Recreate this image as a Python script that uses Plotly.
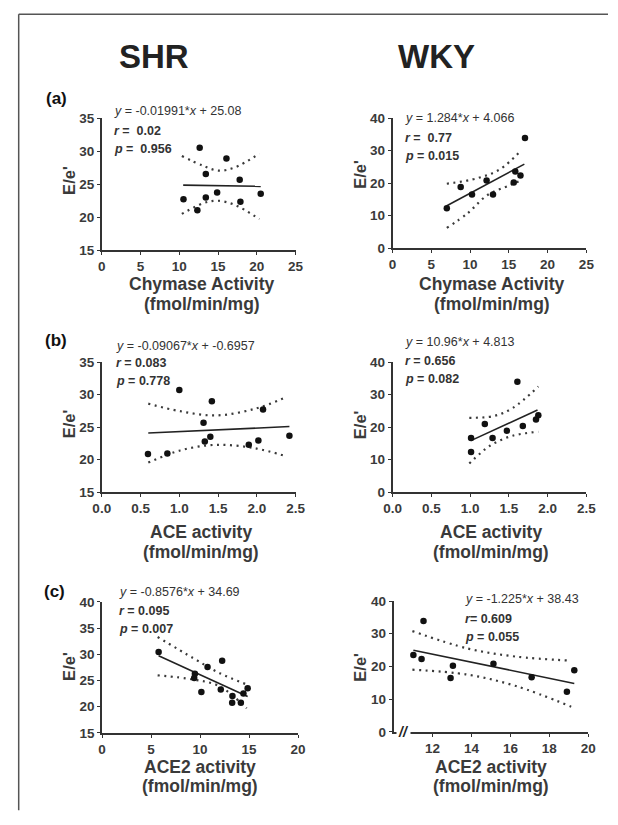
import plotly.graph_objects as go

W, H = 618, 825

# ---------------- data ----------------
# (a) Chymase activity
shr_chy_x = [10.54, 12.33, 12.63, 13.42, 13.42, 14.88, 16.08, 17.79, 17.88, 20.5]
shr_chy_y = [22.74, 21.05, 30.53, 26.56, 22.99, 23.73, 28.9, 25.67, 22.34, 23.54]
shr_chy_fit_x = [10.5, 20.5]
shr_chy_fit_y = [24.87, 24.67]
shr_chy_up_x = [10.33, 13.04, 15.1, 17.2, 20.33]
shr_chy_up_y = [29.29, 27.8, 27.06, 27.56, 29.64]
shr_chy_lo_x = [10.33, 13.04, 14.9, 17.2, 20.33]
shr_chy_lo_y = [20.5, 22.1, 22.5, 21.85, 19.7]

wky_chy_x = [7.0, 8.79, 10.25, 12.13, 12.96, 15.63, 15.83, 16.5, 17.08]
wky_chy_y = [12.29, 18.84, 16.52, 20.86, 16.52, 20.25, 23.58, 22.37, 33.95]
wky_chy_fit_x = [7.0, 17.0]
wky_chy_fit_y = [13.05, 25.89]
wky_chy_up_x = [7.0, 10.96, 13.9, 16.58]
wky_chy_up_y = [19.85, 21.56, 24.38, 30.1]
wky_chy_lo_x = [7.0, 9.7, 12.2, 15.1, 16.58]
wky_chy_lo_y = [6.25, 10.78, 16.3, 19.35, 20.86]

# (b) ACE activity
shr_ace_x = [0.596, 0.846, 1.0, 1.3125, 1.329, 1.4, 1.42, 1.896, 2.02, 2.08, 2.42]
shr_ace_y = [20.88, 20.98, 30.73, 25.7, 22.79, 23.54, 28.97, 22.29, 22.94, 27.71, 23.69]
shr_ace_fit_x = [0.6, 2.42]
shr_ace_fit_y = [24.1, 25.1]
shr_ace_up_x = [0.6, 1.01, 1.47, 1.97, 2.38]
shr_ace_up_y = [28.62, 27.46, 26.81, 27.81, 29.62]
shr_ace_lo_x = [0.6, 1.01, 1.47, 1.97, 2.38]
shr_ace_lo_y = [19.57, 21.43, 22.29, 21.78, 20.53]

wky_ace_x = [1.0125, 1.0125, 1.19, 1.29, 1.475, 1.61, 1.68, 1.85, 1.88]
wky_ace_y = [16.68, 12.36, 21.0, 16.68, 18.9, 33.97, 20.4, 22.4, 23.7]
wky_ace_fit_x = [1.01, 1.87]
wky_ace_fit_y = [15.88, 25.3]
wky_ace_up_x = [0.99, 1.3, 1.55, 1.88]
wky_ace_up_y = [22.9, 23.4, 25.9, 32.5]
wky_ace_lo_x = [0.99, 1.26, 1.55, 1.88]
wky_ace_lo_y = [8.84, 14.37, 17.39, 18.6]

# (c) ACE2 activity
shr_ace2_x = [5.77, 9.47, 9.4, 10.13, 10.76, 12.25, 12.11, 13.3, 13.27, 14.16, 14.42, 14.85]
shr_ace2_y = [30.44, 26.3, 25.5, 22.8, 27.57, 28.75, 23.3, 22.05, 20.74, 20.74, 22.5, 23.5]
shr_ace2_fit_x = [5.77, 14.85]
shr_ace2_fit_y = [29.74, 21.95]
shr_ace2_up_x = [5.67, 9.31, 11.95, 14.75]
shr_ace2_up_y = [33.3, 29.26, 26.44, 24.25]
shr_ace2_lo_x = [5.67, 9.31, 11.95, 14.75]
shr_ace2_lo_y = [25.99, 25.19, 23.93, 19.69]

wky_ace2_x = [11.02, 11.44, 11.54, 12.93, 13.05, 15.13, 17.09, 18.9, 19.28]
wky_ace2_y = [23.5, 22.3, 33.9, 16.5, 20.2, 20.8, 16.7, 12.3, 18.8]
wky_ace2_fit_x = [11.02, 19.28]
wky_ace2_fit_y = [24.93, 14.81]
wky_ace2_up_x = [10.97, 13.8, 16.29, 19.03]
wky_ace2_up_y = [30.8, 25.5, 23.0, 21.8]
wky_ace2_lo_x = [10.97, 13.8, 16.29, 19.12]
wky_ace2_lo_y = [19.0, 17.5, 14.0, 7.7]

# equation text
eq_texts = [
    ("y", "-0.01991", "25.08", "r =  ", "0.02", "p =  ", "0.956"),
    ("y", "1.284", "4.066", "r =  ", "0.77", "p = ", "0.015"),
    ("y", "-0.09067", "-0.6957", "r = ", "0.083", "p = ", "0.778"),
    ("y", "10.96", "4.813", "r = ", "0.656", "p = ", "0.082"),
    ("y", "-0.8576", "34.69", "r = ", "0.095", "p = ", "0.007"),
    ("y", "-1.225", "38.43", "r= ", "0.609", "p = ", "0.055"),
]

# ---------------- layout helpers ----------------
def xd(a, b):
    return [a / W, b / W]

def yd(top, bottom):
    return [1 - bottom / H, 1 - top / H]

def px(x):
    return x / W

def py(y):
    return 1 - y / H

AX = "#333333"
SANS = "Liberation Sans"
TICKFONT = dict(family=SANS, size=13.5, color="#3a3a3a", weight="bold")

panels = [
    dict(xp=(95.7, 295.7), yp=(113.3, 247.7), xr=[0, 25], yr=[15, 35], xt=[0, 5, 10, 15, 20, 25], yt=[15, 20, 25, 30, 35], fmt=None,
         data=(shr_chy_x, shr_chy_y, shr_chy_fit_x, shr_chy_fit_y, shr_chy_up_x, shr_chy_up_y, shr_chy_lo_x, shr_chy_lo_y)),
    dict(xp=(395.7, 595.7), yp=(113.3, 245.7), xr=[0, 25], yr=[0, 40], xt=[0, 5, 10, 15, 20, 25], yt=[0, 10, 20, 30, 40], fmt=None,
         data=(wky_chy_x, wky_chy_y, wky_chy_fit_x, wky_chy_fit_y, wky_chy_up_x, wky_chy_up_y, wky_chy_lo_x, wky_chy_lo_y)),
    dict(xp=(95.7, 295.7), yp=(361.7, 494.3), xr=[0, 2.5], yr=[15, 35], xt=[0, 0.5, 1, 1.5, 2, 2.5], yt=[15, 20, 25, 30, 35], fmt=".1f",
         data=(shr_ace_x, shr_ace_y, shr_ace_fit_x, shr_ace_fit_y, shr_ace_up_x, shr_ace_up_y, shr_ace_lo_x, shr_ace_lo_y)),
    dict(xp=(395.7, 595.7), yp=(361.7, 494.3), xr=[0, 2.5], yr=[0, 40], xt=[0, 0.5, 1, 1.5, 2, 2.5], yt=[0, 10, 20, 30, 40], fmt=".1f",
         data=(wky_ace_x, wky_ace_y, wky_ace_fit_x, wky_ace_fit_y, wky_ace_up_x, wky_ace_up_y, wky_ace_lo_x, wky_ace_lo_y)),
    dict(xp=(96.0, 298.3), yp=(606.0, 739.3), xr=[0, 20], yr=[15, 40], xt=[0, 5, 10, 15, 20], yt=[15, 20, 25, 30, 35, 40], fmt=None,
         data=(shr_ace2_x, shr_ace2_y, shr_ace2_fit_x, shr_ace2_fit_y, shr_ace2_up_x, shr_ace2_up_y, shr_ace2_lo_x, shr_ace2_lo_y)),
    dict(xp=(396.7, 597.7), yp=(605.0, 738.3), xr=[10, 20], yr=[0, 40], xt=[12, 14, 16, 18, 20], yt=[0, 10, 20, 30, 40], fmt=None,
         data=(wky_ace2_x, wky_ace2_y, wky_ace2_fit_x, wky_ace2_fit_y, wky_ace2_up_x, wky_ace2_up_y, wky_ace2_lo_x, wky_ace2_lo_y)),
]

fig = go.Figure()
layout = dict(
    width=W, height=H, margin=dict(l=0, r=0, t=0, b=0),
    paper_bgcolor="white", plot_bgcolor="white", showlegend=False,
)

for i, p in enumerate(panels):
    n = "" if i == 0 else str(i + 1)
    xa, ya = "xaxis" + n, "yaxis" + n
    xref, yref = "x" + n, "y" + n
    common = dict(showline=True, linecolor=AX, linewidth=1.6, ticks="outside", ticklen=3,
                  tickwidth=1.4, tickcolor=AX, showgrid=False, zeroline=False,
                  tickfont=TICKFONT, fixedrange=True)
    layout[xa] = dict(domain=xd(*p["xp"]), range=p["xr"], tickvals=p["xt"], anchor=yref, **common)
    if p["fmt"]:
        layout[xa]["tickformat"] = p["fmt"]
    layout[ya] = dict(domain=yd(*p["yp"]), range=p["yr"], tickvals=p["yt"], anchor=xref, **common)

    sx, sy, fx, fy, ux, uy, lx, ly = p["data"]
    for bx, by in ((ux, uy), (lx, ly)):
        fig.add_trace(go.Scatter(x=bx, y=by, mode="lines", xaxis=xref, yaxis=yref,
                                 line=dict(color="#3a3a3a", width=2.2, dash="2px,4.5px", shape="spline"),
                                 hoverinfo="skip", cliponaxis=False))
    fig.add_trace(go.Scatter(x=fx, y=fy, mode="lines", xaxis=xref, yaxis=yref,
                             line=dict(color="#222222", width=1.6), cliponaxis=False))
    fig.add_trace(go.Scatter(x=sx, y=sy, mode="markers", xaxis=xref, yaxis=yref,
                             marker=dict(color="#111111", size=6.5), cliponaxis=False))

annotations = []

def ann(text, x, y, size, rot=0, xanchor="center", family=SANS, weight="bold", color="#3a3a3a"):
    annotations.append(dict(text=text, x=px(x), y=py(y), xref="paper", yref="paper",
                            showarrow=False, xanchor=xanchor, yanchor="middle", textangle=rot,
                            font=dict(family=family, size=size, color=color, weight=weight)))

# headers
ann("SHR", 149.5, 50, 33, color="#222222")
ann("WKY", 441, 50, 33, color="#222222")
# panel labels
ann("(a)", 49, 93, 17, color="#111111")
ann("(b)", 48, 340, 17, color="#111111")
ann("(c)", 47, 595, 17, color="#111111")

# axis titles
x_titles = [("Chymase Activity", 282, 302, 3), ("ACE activity", 535, 555, 2), ("ACE2 activity", 774.5, 793, 0)]
for r, (t, y1, y2, dx) in enumerate(x_titles):
    for c in range(2):
        p = panels[2 * r + c]
        cx = (p["xp"][0] + p["xp"][1]) / 2 + dx
        ann(t, cx, y1, 17.5)
        ann("(fmol/min/mg)", cx, y2, 17.5)

ylab_pos = [(62, 177), (362, 170), (62, 425), (362, 425), (62, 672), (362, 672)]
for (x, y) in ylab_pos:
    ann("E/e'", x, y, 16.5, rot=-90)

# equations
eq_pos = [(106.7, 106, 126.7, 145), (406, 113.3, 133.3, 151.7), (108.3, 345, 362.3, 380.7),
          (406, 340.7, 360.7, 379), (111.7, 596, 615, 633.3), (468.3, 603.3, 623.3, 641.7)]
for (yv, sl, ic, rl, rv, pl, pv), (x0, y0, y1, y2) in zip(eq_texts, eq_pos):
    ann(f"<i>{yv}</i> = {sl}*<i>x</i> + {ic}", x0, y0, 12.5, xanchor="left", weight="normal", color="#333333")
    ann(f"<i>{rl[0]}</i>{rl[1:]}{rv}", x0, y1, 12.5, xanchor="left", weight="bold", color="#333333")
    ann(f"<i>{pl[0]}</i>{pl[1:]}{pv}", x0, y2, 12.5, xanchor="left", weight="bold", color="#333333")

# axis break mark
annotations.append(dict(text="<i>//</i>", x=px(407), y=py(738.3), xref="paper", yref="paper",
                        showarrow=False, xanchor="center", yanchor="middle", bgcolor="white",
                        font=dict(family=SANS, size=14, color="#222222", weight="bold")))

layout["annotations"] = annotations
layout["shapes"] = [
    dict(type="line", xref="paper", yref="paper", x0=px(10), x1=px(10), y0=py(7.5), y1=py(818),
         line=dict(color="#555555", width=1.5)),
    dict(type="line", xref="paper", yref="paper", x0=px(10), x1=px(618), y0=py(7.5), y1=py(7.5),
         line=dict(color="#555555", width=1.5)),
]
fig.update_layout(**layout)
fig.write_html("out.html", config={"displayModeBar": False},
               post_script="document.body.style.margin='0';document.body.style.padding='0';document.body.style.overflow='hidden';")
